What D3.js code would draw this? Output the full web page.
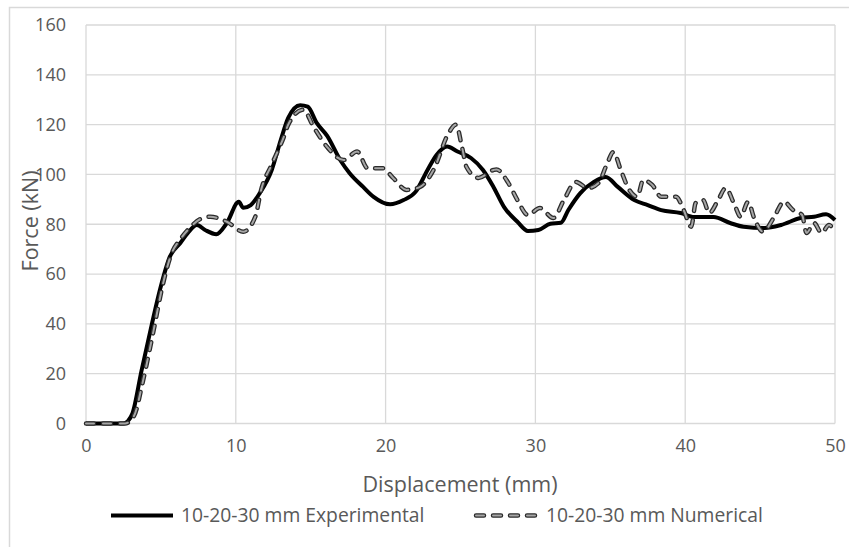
<!DOCTYPE html>
<html>
<head>
<meta charset="utf-8">
<script src="https://cdn.jsdelivr.net/npm/d3@7"></script>
<style>
body{margin:0;background:#fff;}
text{font-family:'Open Sans',sans-serif;fill:#595959;}
</style>
</head>
<body>
<script>
// experimental curve (displacement mm, force kN)
var dispExp=[0,2.5,2.8,3.1,3.7,4.4,4.95,5.6,6.3,6.8,7.4,7.95,8.7,9.4,10.2,10.5,11.0,11.6,12.4,13.0,13.5,14.3,14.8,15.4,16.1,17.0,17.6,18.5,19.2,20.3,21.2,22.0,22.8,23.4,24.1,24.8,25.7,26.5,27.2,27.9,28.8,29.5,30.2,31.0,31.7,32.2,33.0,33.9,34.7,35.5,36.6,37.5,38.4,39.7,40.6,41.9,43.0,43.9,45.3,46.4,47.7,48.6,49.4,50];
var forceExp=[0,0,1,4,21,40,54,67,72.5,76.5,79.7,77.7,76,80.5,89,86.6,87.7,92.5,101.8,113.8,122.7,127.8,127.2,120.7,115.5,105.5,100.5,95,91,88,89.7,93,101.8,107.8,111.2,109.2,106.6,101.8,95,87,81,77.3,77.7,80.2,80.6,85.7,92.5,97,99,95,89.7,87.7,85.7,84.5,82.9,82.9,80.5,79,78.5,79.7,82.5,83,84,81.7];
// numerical curve
var dispNum=[0,2.6,3.2,3.8,4.5,5.1,5.7,6.3,7.0,7.6,8.3,9.4,10.5,11.3,11.7,12.4,13.2,13.5,14.5,15.2,16.1,17.2,18.1,18.8,19.8,20.5,21.4,22.3,23.2,24.2,24.7,25.1,25.4,26.2,27.2,27.4,28.2,28.8,29.5,30.3,31.2,31.9,32.7,33.5,34.2,34.8,35.2,35.7,36.2,36.8,37.2,37.8,38.4,39.4,39.9,40.4,40.7,41.2,41.6,42.2,42.7,43.3,43.7,44.2,44.6,45.2,45.9,46.6,47.2,47.8,48.1,48.6,49.1,49.6,50];
var forceNum=[0,0,3,17,37,55,68,74,79,82,83,81,77,83,94,104,115,120,126,119,111,105.8,109.2,102.5,102.5,98.6,93.8,95,101.8,116.5,120,111,103,98.6,101.8,102,96.5,89.7,83.7,86.5,82.5,89.7,97,94.5,96.5,104.5,109,101.8,94.5,91,97.8,95.8,91,91,85.7,79,88.5,89.7,84.5,89.7,94.5,87.7,83,89,82.5,77,82.5,89,85.7,83.7,76.5,80.5,76.5,79.7,76.5];
var xTicks=[0,10,20,30,40,50];
var yTicks=[0,20,40,60,80,100,120,140,160];
var seriesNames=['10-20-30 mm Experimental','10-20-30 mm Numerical'];

var width=849,height=547;
var svg=d3.select('body').append('svg')
    .attr('width',width)
    .attr('height',height);

// outer chart frame
svg.append('path')
    .attr('d','M9.5,'+height+'V7.5H'+width)
    .attr('fill','none')
    .attr('stroke','#d9d9d9')
    .attr('stroke-width',1.5);

var xScale=d3.scaleLinear().domain([0,50]).range([86,835]);
var yScale=d3.scaleLinear().domain([0,160]).range([423.5,25]);

var grid=svg.append('g');
grid.selectAll('.hg').data(yTicks).enter().append('line')
    .attr('x1',xScale(0)).attr('x2',xScale(50))
    .attr('y1',d=>yScale(d)).attr('y2',d=>yScale(d))
    .attr('stroke','#d9d9d9').attr('stroke-width',1.3);
grid.selectAll('.vg').data(xTicks).enter().append('line')
    .attr('y1',yScale(0)).attr('y2',yScale(160))
    .attr('x1',d=>xScale(d)).attr('x2',d=>xScale(d))
    .attr('stroke','#d9d9d9').attr('stroke-width',1.3);

var yAxis=d3.axisLeft(yScale).tickValues(yTicks).tickSize(0).tickPadding(0);
svg.append('g')
    .attr('transform','translate(66,0)')
    .call(yAxis)
    .call(g=>g.select('.domain').remove())
    .selectAll('text')
    .style('font-family','Open Sans, sans-serif')
    .style('font-size','18px')
    .attr('fill','#595959');

var xAxis=d3.axisBottom(xScale).tickValues(xTicks).tickSize(0).tickPadding(0);
svg.append('g')
    .attr('transform','translate(0,439)')
    .call(xAxis)
    .call(g=>g.select('.domain').remove())
    .selectAll('text')
    .style('font-family','Open Sans, sans-serif')
    .style('font-size','18px')
    .attr('fill','#595959');

svg.append('text')
    .attr('transform','translate(38,221) rotate(-90)')
    .attr('text-anchor','middle')
    .style('font-size','21.5px')
    .text('Force (kN)');

svg.append('text')
    .attr('x',460).attr('y',492)
    .attr('text-anchor','middle')
    .style('font-size','21.5px')
    .text('Displacement (mm)');

var line=d3.line()
    .x(d=>xScale(d[0]))
    .y(d=>yScale(d[1]))
    .curve(d3.curveMonotoneX);

var expPts=dispExp.map((d,i)=>[d,forceExp[i]]);
var numPts=dispNum.map((d,i)=>[d,forceNum[i]]);

svg.append('path')
    .attr('d',line(expPts))
    .attr('fill','none')
    .attr('stroke','#000')
    .attr('stroke-width',4)
    .attr('stroke-linejoin','round');

function dashed(sel){
    sel.append('path')
        .attr('fill','none')
        .attr('stroke','#2b2b2b')
        .attr('stroke-width',4.5)
        .attr('stroke-linecap','round')
        .attr('stroke-dasharray','8,9');
    sel.append('path')
        .attr('fill','none')
        .attr('stroke','#a6a6a6')
        .attr('stroke-width',2)
        .attr('stroke-linecap','round')
        .attr('stroke-dasharray','8,9');
}
var numG=svg.append('g');
dashed(numG);
numG.selectAll('path').attr('d',line(numPts));

// legend
var legend=svg.append('g').attr('id','legend');
legend.append('line')
    .attr('x1',111).attr('x2',173)
    .attr('y1',515.5).attr('y2',515.5)
    .attr('stroke','#000').attr('stroke-width',4);
legend.append('text')
    .attr('x',181).attr('y',522)
    .style('font-size','19.3px')
    .text(seriesNames[0]);
var legNum=legend.append('g');
dashed(legNum);
legNum.selectAll('path').attr('d','M476,515.5H538');
legend.append('text')
    .attr('x',546).attr('y',522)
    .style('font-size','19.3px')
    .text(seriesNames[1]);
</script>
</body>
</html>
